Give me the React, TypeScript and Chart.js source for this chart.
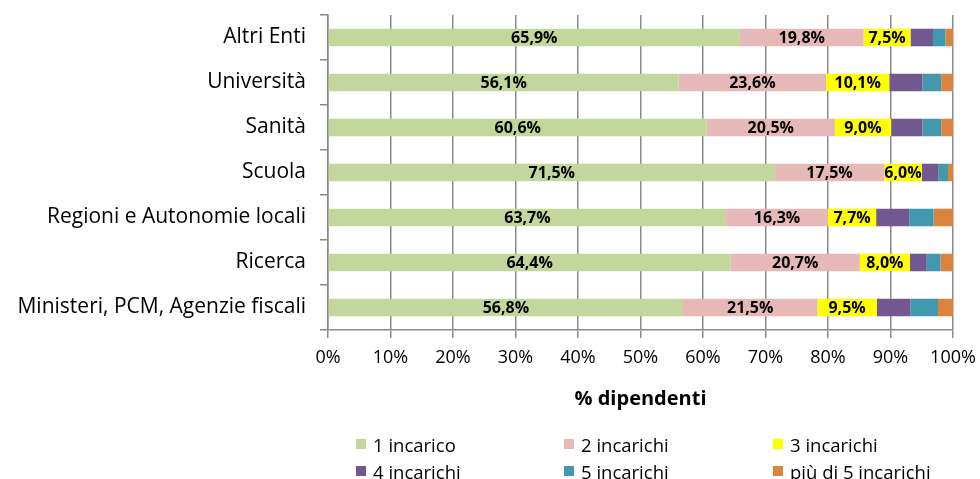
import React, { useEffect, useRef } from "react";
import { Chart, registerables } from "chart.js";

Chart.register(...registerables);

const categories = [
  "Altri Enti",
  "Università",
  "Sanità",
  "Scuola",
  "Regioni e Autonomie locali",
  "Ricerca",
  "Ministeri, PCM, Agenzie fiscali",
];
const seriesNames = ["1 incarico", "2 incarichi", "3 incarichi", "4 incarichi", "5 incarichi", "più di 5 incarichi"];
const s1 = [65.9, 56.1, 60.6, 71.5, 63.7, 64.4, 56.8];
const s2 = [19.8, 23.6, 20.5, 17.5, 16.3, 20.7, 21.5];
const s3 = [7.5, 10.1, 9.0, 6.0, 7.7, 8.0, 9.5];
const s4 = [3.6, 5.3, 5.0, 2.7, 5.3, 2.7, 5.4];
const s5 = [2.0, 3.0, 3.0, 1.5, 3.9, 2.2, 4.4];
const s6 = [1.2, 1.9, 1.9, 0.8, 3.1, 2.0, 2.4];
const seriesValues = [s1, s2, s3, s4, s5, s6];
const colors = ["#c3d69b", "#e6b9b8", "#ffff00", "#71588f", "#4198af", "#db843d"];
const labeledSeries = [0, 1, 2];
const axisTitle = "% dipendenti";

const FONT = "'Open Sans', 'Noto Sans', sans-serif";

const fmt = (v: number) => v.toFixed(1).replace(".", ",") + "%";

const labelPlugin = {
  id: "segLabels",
  afterDatasetsDraw(chart: any) {
    const ctx = chart.ctx;
    ctx.save();
    ctx.font = `bold 16px ${FONT}`;
    ctx.fillStyle = "#000";
    ctx.textAlign = "center";
    ctx.textBaseline = "middle";
    labeledSeries.forEach((di) => {
      const meta = chart.getDatasetMeta(di);
      meta.data.forEach((bar: any, i: number) => {
        const p = bar.getProps(["x", "y", "base"], true);
        const v = chart.data.datasets[di].data[i];
        ctx.fillText(fmt(v), (p.x + p.base) / 2, p.y + 1);
      });
    });
    const ca = chart.chartArea;
    ctx.font = `bold 20px ${FONT}`;
    ctx.fillText(axisTitle, (ca.left + ca.right) / 2, 399);
    ctx.restore();
  },
};

export default function App() {
  const ref = useRef<HTMLCanvasElement>(null);
  useEffect(() => {
    document.body.style.margin = "0";
    const chart = new Chart(ref.current!, {
      type: "bar",
      data: {
        labels: categories,
        datasets: seriesNames.map((n, i) => ({
          label: n,
          data: seriesValues[i],
          backgroundColor: colors[i],
          borderWidth: 0,
          categoryPercentage: 1,
          barPercentage: 0.39,
        })),
      },
      options: {
        indexAxis: "y",
        animation: false,
        responsive: false,
        maintainAspectRatio: false,
        layout: { padding: { top: 15, right: 27, left: 0, bottom: 0 } },
        plugins: { legend: { display: false }, tooltip: { enabled: false } },
        scales: {
          x: {
            stacked: true,
            min: 0,
            max: 100,
            ticks: {
              stepSize: 10,
              callback: (v: any) => v + "%",
              color: "#000",
              font: { family: FONT, size: 18 },
              padding: 9,
              maxRotation: 0,
            },
            grid: { color: "#8a8a8a", lineWidth: 1.5, tickLength: 8, drawOnChartArea: true },
            border: { color: "#8a8a8a", width: 1.5 },
            afterFit: (s: any) => {
              s.height = 149;
              s.paddingLeft = 0;
              s.paddingRight = 0;
            },
          },
          y: {
            stacked: true,
            offset: true,
            ticks: {
              color: "#000",
              font: { family: FONT, size: 21 },
              padding: 14,
            },
            grid: { offset: true, drawOnChartArea: false, color: "#8a8a8a", lineWidth: 1.5, tickLength: 8 },
            border: { color: "#8a8a8a", width: 1.5 },
            afterFit: (s: any) => {
              s.width = 328;
              s.paddingTop = 0;
              s.paddingBottom = 0;
            },
          },
        },
      },
      plugins: [labelPlugin],
    });
    return () => chart.destroy();
  }, []);

  const legendCols = [356, 564, 773];
  const legendRows = [444, 471];
  return (
    <div style={{ position: "relative", width: 980, height: 479 }}>
      <canvas ref={ref} width={980} height={479} style={{ display: "block" }} />
      {seriesNames.map((n, i) => {
        const x = legendCols[i % 3];
        const y = legendRows[Math.floor(i / 3)];
        return (
          <div
            key={n}
            style={{
              position: "absolute",
              left: x,
              top: y - 12,
              height: 24,
              display: "flex",
              alignItems: "center",
              fontFamily: FONT,
              fontSize: 18.5,
              color: "#000",
              whiteSpace: "nowrap",
            }}
          >
            <span style={{ display: "inline-block", width: 10, height: 10, background: colors[i], marginRight: 7 }} />
            <span>{n}</span>
          </div>
        );
      })}
    </div>
  );
}
